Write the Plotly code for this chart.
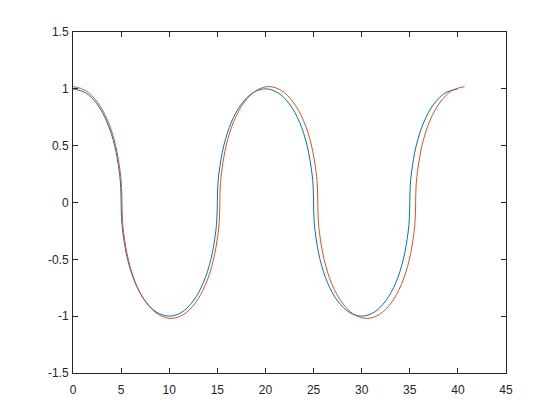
import plotly.graph_objects as go

# blue curve (first series)
x_blue = [0, 1.29, 2.50, 3.54, 4.33, 4.83, 4.96, 5.00,
          5.04, 5.17, 5.67, 6.46, 7.50, 8.71, 10.00,
          11.29, 12.50, 13.54, 14.33, 14.83, 14.96, 15.00,
          15.04, 15.17, 15.67, 16.46, 17.50, 18.71, 20.00,
          21.29, 22.50, 23.54, 24.33, 24.83, 24.96, 25.00,
          25.04, 25.17, 25.67, 26.46, 27.50, 28.71, 30.00,
          31.29, 32.50, 33.54, 34.33, 34.83, 34.96, 35.00,
          35.04, 35.17, 35.67, 36.46, 37.50, 38.71, 40.00]
y_blue = [1, 0.966, 0.866, 0.707, 0.5, 0.259, 0.131, 0,
          -0.131, -0.259, -0.5, -0.707, -0.866, -0.966, -1,
          -0.966, -0.866, -0.707, -0.5, -0.259, -0.131, 0,
          0.131, 0.259, 0.5, 0.707, 0.866, 0.966, 1,
          0.966, 0.866, 0.707, 0.5, 0.259, 0.131, 0,
          -0.131, -0.259, -0.5, -0.707, -0.866, -0.966, -1,
          -0.966, -0.866, -0.707, -0.5, -0.259, -0.131, 0,
          0.131, 0.259, 0.5, 0.707, 0.866, 0.966, 1]

# orange curve (second series), slightly stretched
x_orange = [0, 1.31, 2.54, 3.60, 4.41, 4.91, 5.05, 5.09,
            5.13, 5.26, 5.77, 6.57, 7.63, 8.86, 10.18,
            11.49, 12.72, 13.78, 14.58, 15.09, 15.22, 15.26,
            15.30, 15.44, 15.94, 16.75, 17.81, 19.04, 20.35,
            21.66, 22.89, 23.95, 24.76, 25.27, 25.40, 25.44,
            25.48, 25.61, 26.12, 26.92, 27.98, 29.21, 30.53,
            31.84, 33.07, 34.13, 34.93, 35.44, 35.57, 35.61,
            35.65, 35.79, 36.29, 37.10, 38.16, 39.39, 40.70]
y_orange = [1.02, 0.985, 0.883, 0.721, 0.51, 0.264, 0.133, 0,
            -0.133, -0.264, -0.51, -0.721, -0.883, -0.985, -1.02,
            -0.985, -0.883, -0.721, -0.51, -0.264, -0.133, 0,
            0.133, 0.264, 0.51, 0.721, 0.883, 0.985, 1.02,
            0.985, 0.883, 0.721, 0.51, 0.264, 0.133, 0,
            -0.133, -0.264, -0.51, -0.721, -0.883, -0.985, -1.02,
            -0.985, -0.883, -0.721, -0.51, -0.264, -0.133, 0,
            0.133, 0.264, 0.51, 0.721, 0.883, 0.985, 1.02]

x_ticks = [0, 5, 10, 15, 20, 25, 30, 35, 40, 45]
y_ticks = [-1.5, -1, -0.5, 0, 0.5, 1, 1.5]
y_labels = ["-1.5", "-1", "-0.5", "0", "0.5", "1", "1.5"]

fig = go.Figure()
fig.add_trace(go.Scatter(x=x_blue, y=y_blue, mode="lines",
                         line=dict(color="#0072BD", width=1, shape="spline")))
fig.add_trace(go.Scatter(x=x_orange, y=y_orange, mode="lines",
                         line=dict(color="#D95319", width=1, shape="spline")))

axis_style = dict(showline=True, linecolor="#262626", linewidth=1,
                  mirror="ticks", ticks="inside", ticklen=5, tickcolor="#262626",
                  showgrid=False, zeroline=False,
                  tickfont=dict(family="Liberation Sans", size=12, color="#262626"))

fig.update_xaxes(range=[0, 45], tickvals=x_ticks, ticklabelstandoff=6, **axis_style)
fig.update_yaxes(range=[-1.5, 1.5], tickvals=y_ticks, ticktext=y_labels,
                 ticklabelstandoff=1, **axis_style)

# page has an 8px body margin, so the margins are shifted to land the box where the reference has it
fig.update_layout(width=560, height=420, showlegend=False,
                  margin=dict(l=65, r=62, t=24, b=55),
                  plot_bgcolor="white", paper_bgcolor="white")

fig.write_html("out.html")
